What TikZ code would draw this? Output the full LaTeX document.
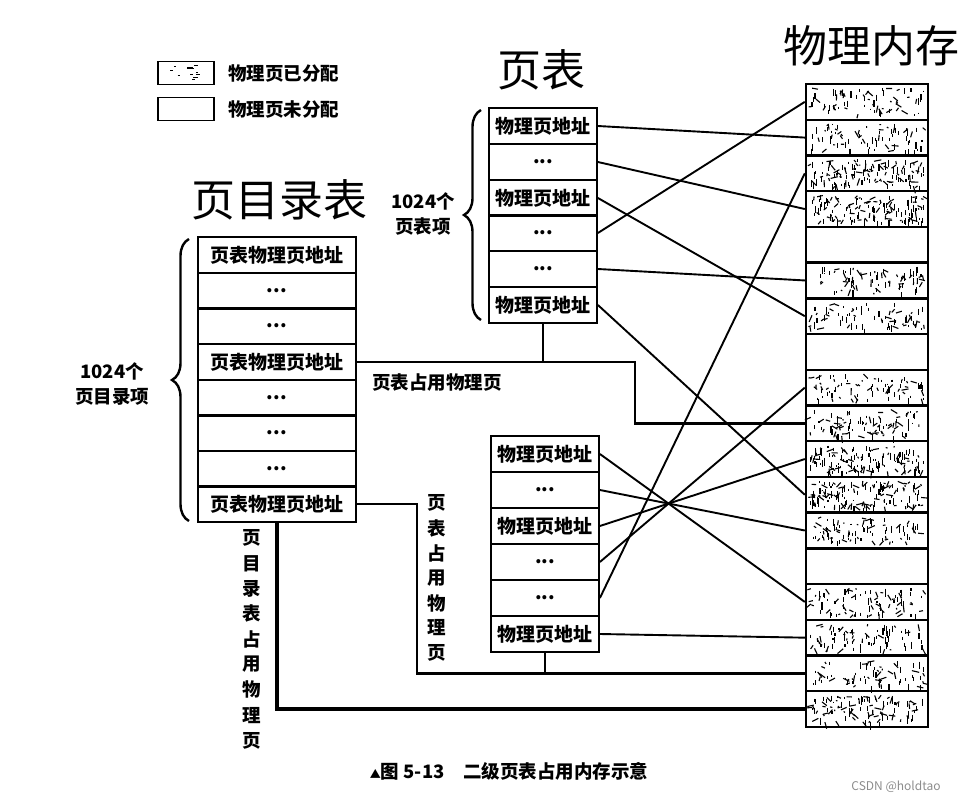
\documentclass[tikz,border=0pt]{standalone}
\usepackage{fontspec}
\setmainfont{Noto Sans CJK SC}
\usetikzlibrary{decorations.pathreplacing}
\begin{document}
\begin{tikzpicture}[x=1pt,y=-1pt,
  cell/.style={draw, line width=1.8pt, minimum height=35.7pt, inner sep=0pt, font=\fontsize{19}{19}\selectfont\bfseries},
  dcell/.style={cell, minimum width=158pt},
  pcell/.style={cell, minimum width=108pt},
  mem/.style={draw, line width=2.4pt, minimum width=122pt, minimum height=35.72pt, inner sep=0pt},
  link/.style={line width=1.9pt},
  occ/.style={line width=2.6pt},
  occthick/.style={line width=3.8pt},
  lbl/.style={font=\fontsize{18.5}{25}\selectfont\bfseries, inner sep=0pt},
  ttl/.style={font=\fontsize{44}{44}\selectfont, inner sep=0pt},
  br/.style={decorate, decoration={brace, amplitude=17pt}, line width=2.4pt},
  speck/.style={line width=1.1pt}
]
\useasboundingbox (0,0) rectangle (970,803);

% titles
\node[ttl] (tmem) at (871,46) {物理内存};
\node[ttl] (tpt) at (541,70) {页表};
\node[ttl] (tdir) at (279,200) {页目录表};

% legend
\node[draw, line width=1.8pt, minimum width=56pt, minimum height=23pt, inner sep=0pt] (lg1) at (186,73) {};
\node[draw, line width=1.8pt, minimum width=56pt, minimum height=23pt, inner sep=0pt] (lg2) at (186,109) {};
\node[lbl, anchor=west] (lgt1) at (228,73) {物理页已分配};
\node[lbl, anchor=west] (lgt2) at (228,109) {物理页未分配};
\pgfmathsetseed{11}
\foreach \k in {1,...,12} {
  \pgfmathsetmacro{\rx}{162+rnd*46}
  \pgfmathsetmacro{\ry}{65+rnd*15}
  \pgfmathsetmacro{\rl}{1.5+rnd*4}
  \draw[speck] (\rx,\ry) -- ++(\rl,0);
}

% memory texture
\foreach \i/\n in {1/70,2/75,3/130,4/140,6/75,7/75,9/80,10/90,11/140,12/140,13/90,15/85,16/80,17/70,18/110} {
  \foreach \k in {1,...,\n} {
    \pgfmathsetmacro{\rx}{810+rnd*114}
    \pgfmathsetmacro{\ry}{84+35.72*(\i-1)+4+rnd*27}
    \pgfmathsetmacro{\rl}{1.5+rnd*6}
    \pgfmathsetmacro{\ra}{(rnd<0.55) ? 90 : rnd*180}
    \draw[speck] (\rx,\ry) -- ++(\ra:\rl);
  }
}
% memory column
\foreach \i in {1,...,18}
  \node[mem] (m\i) at (867,{84+35.72*(\i-0.5)}) {};

% directory table
\node[dcell] (d1) at (277,255) {页表物理页地址};
\node[dcell] (d2) at (277,291) {...};
\node[dcell] (d3) at (277,326) {...};
\node[dcell] (d4) at (277,362) {页表物理页地址};
\node[dcell] (d5) at (277,398) {...};
\node[dcell] (d6) at (277,433) {...};
\node[dcell] (d7) at (277,469) {...};
\node[dcell] (d8) at (277,504) {页表物理页地址};

% upper page table
\node[pcell] (u1) at (543,126) {物理页地址};
\node[pcell] (u2) at (543,162) {...};
\node[pcell] (u3) at (543,198) {物理页地址};
\node[pcell] (u4) at (543,233) {...};
\node[pcell] (u5) at (543,269) {...};
\node[pcell] (u6) at (543,305) {物理页地址};

% lower page table
\node[pcell] (l1) at (545,454) {物理页地址};
\node[pcell] (l2) at (545,490) {...};
\node[pcell] (l3) at (545,526) {物理页地址};
\node[pcell] (l4) at (545,562) {...};
\node[pcell] (l5) at (545,598) {...};
\node[pcell] (l6) at (545,634) {物理页地址};

% braces and counts
\draw[br] (189,521) -- (189,239);
\node[lbl, align=center] (cntd) at (112,384) {1024个\\页目录项};
\draw[br] (481,320) -- (481,110);
\node[lbl, align=center] (cntp) at (423,214) {1024个\\页表项};

% page table entries -> physical pages
\draw[link] (u1.east) -- (m2.west);
\draw[link] (u2.east) -- (m4.west);
\draw[link] (u3.east) -- (m7.west);
\draw[link] (u4.east) -- (m1.west);
\draw[link] (u5.east) -- (m6.west);
\draw[link] (u6.east) -- (m12.west);
\draw[link] (l1.east) -- (m15.west);
\draw[link] (l2.east) -- (m13.west);
\draw[link] (l3.east) -- (m11.west);
\draw[link] (l4.east) -- (m9.west);
\draw[link] (l5.east) -- (m3.west);
\draw[link] (l6.east) -- (m16.west);

% occupancy connectors
\coordinate (k1) at (635,0);
\coordinate (k2) at (417,0);
\draw[occ] (d4.east) -| (k1 |- m10.west) -- (m10.west);
\draw[occ] (u6.south) -- (u6.south |- d4.east);
\draw[occ] (d8.east) -| (k2 |- m17.west) -- (m17.west);
\draw[occ] (l6.south) -- (l6.south |- m17.west);
\draw[occthick] (d8.south) -- (d8.south |- m18.west) -- (m18.west);

% labels
\node[lbl] (occ1) at (437,383) {页表占用物理页};
\foreach \c [count=\j from 0] in {页,表,占,用,物,理,页}
  \node[lbl] (ov\j) at (437,{503+25*\j}) {\c};
\foreach \c [count=\j from 0] in {页,目,录,表,占,用,物,理,页}
  \node[lbl] (dv\j) at (252,{538+25.3*\j}) {\c};

% caption
\node[font=\fontsize{18.5}{18.5}\selectfont\bfseries, inner sep=0pt] (cap) at (509,771) {{\fontsize{11}{11}\selectfont ▲}图 5-13\quad 二级页表占用内存示意};
\node[font=\fontsize{12}{12}\selectfont, text=black!45, inner sep=0pt] (wm) at (896,787) {CSDN @holdtao};
\end{tikzpicture}
\end{document}
